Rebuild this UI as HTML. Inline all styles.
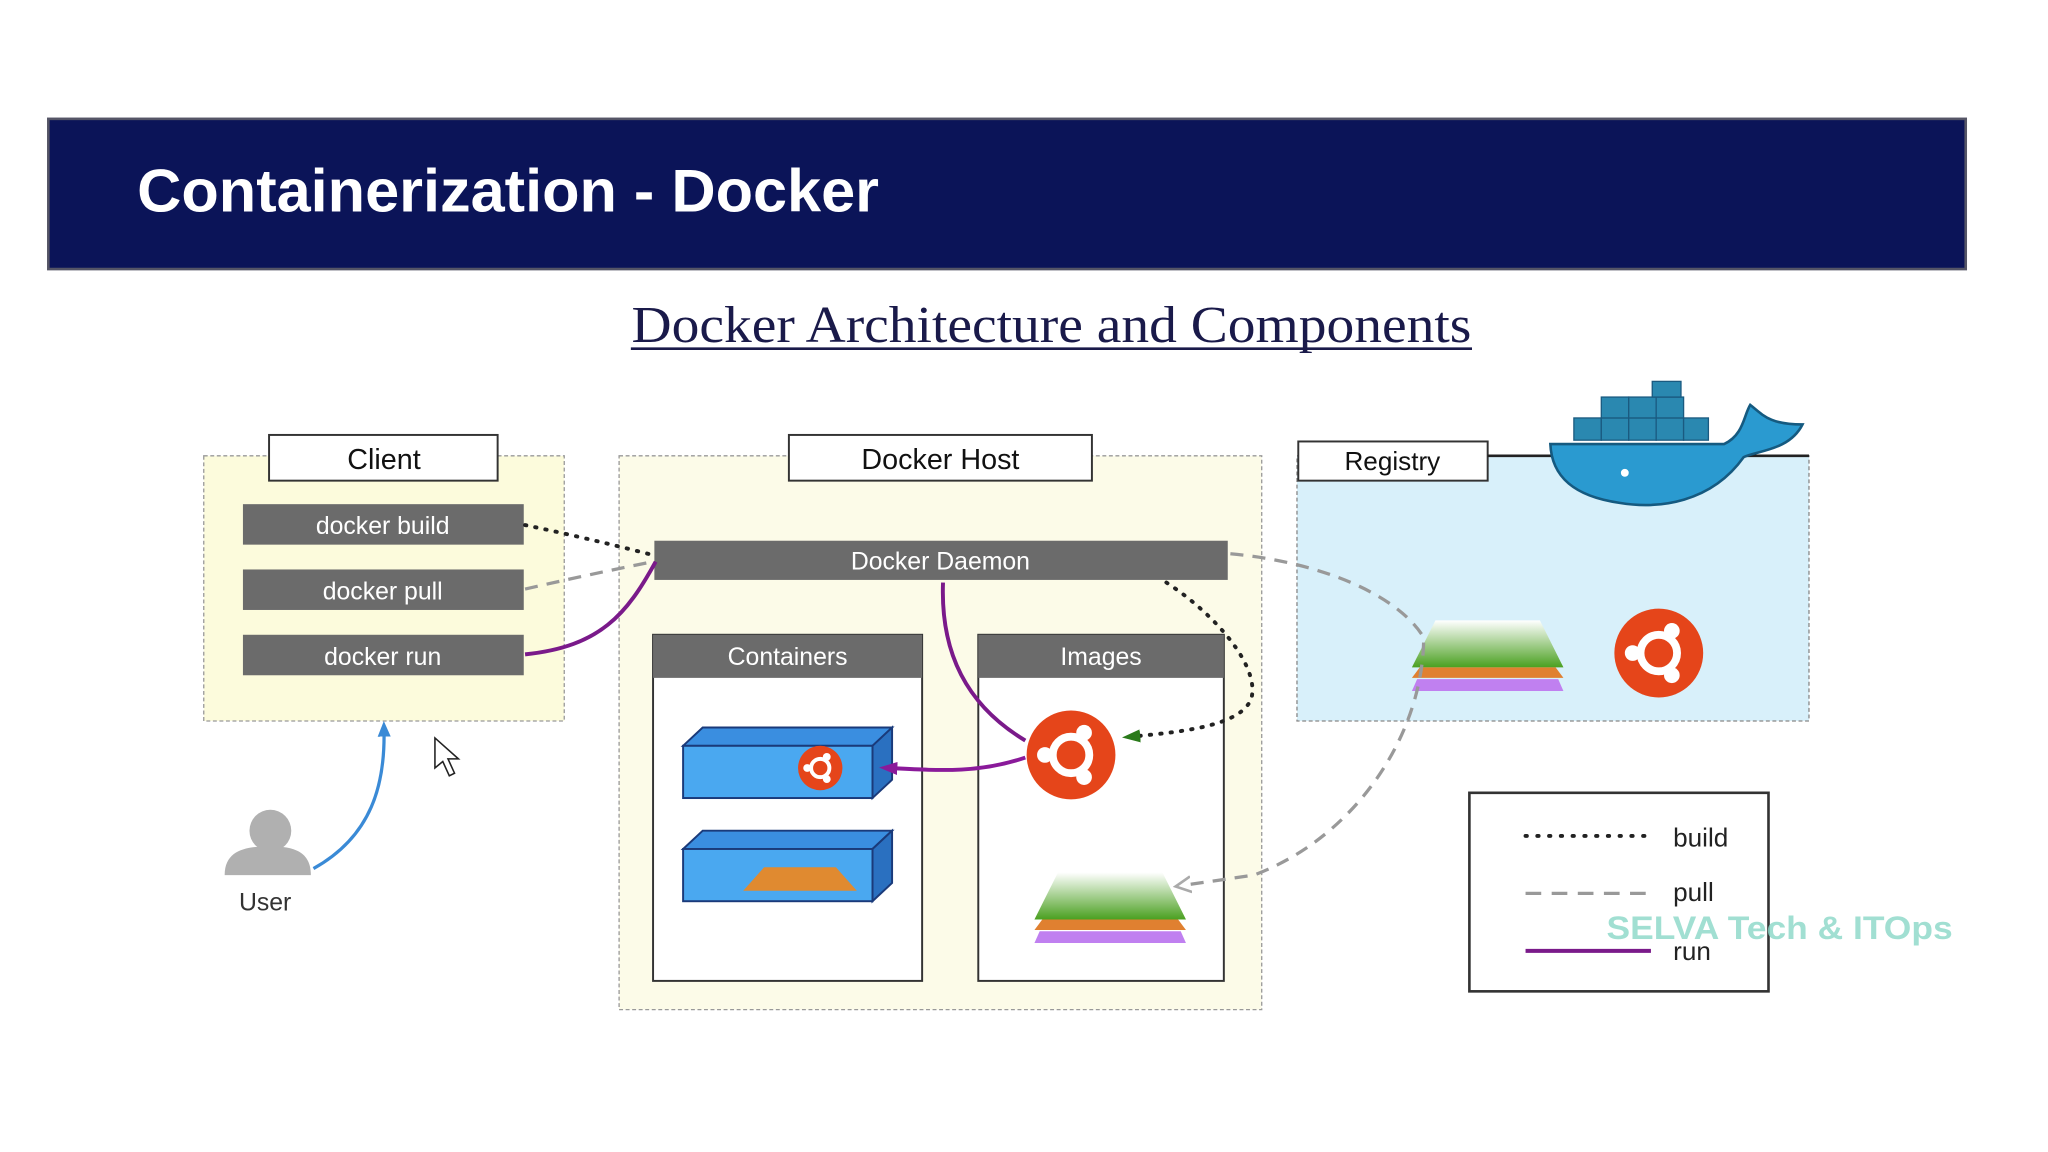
<!DOCTYPE html>
<html><head><meta charset="utf-8"><style>
html,body{margin:0;padding:0;background:#fff;width:2048px;height:1152px;overflow:hidden}
svg{display:block}
text{font-family:"Liberation Sans",sans-serif}
</style></head><body>
<svg width="2048" height="1152" viewBox="0 0 1568 882" preserveAspectRatio="none" xmlns="http://www.w3.org/2000/svg">
<defs>
<linearGradient id="g1" x1="0" y1="0" x2="0" y2="1"><stop offset="0" stop-color="#fff"/><stop offset="1" stop-color="#4aa020"/></linearGradient>
<marker id="ap" markerUnits="userSpaceOnUse" markerWidth="14" markerHeight="14" refX="7" refY="7" orient="auto"><path d="M0,2 L14,7 L0,12 z" fill="#8a1a9a"/></marker>
<marker id="ab" markerUnits="userSpaceOnUse" markerWidth="12" markerHeight="12" refX="6" refY="6" orient="auto"><path d="M0,1 L12,6 L0,11 z" fill="#3a8ad6"/></marker>
<marker id="ag" markerUnits="userSpaceOnUse" markerWidth="14" markerHeight="14" refX="7" refY="7" orient="auto"><path d="M0,2 L14,7 L0,12 z" fill="#2a7a1a"/></marker>
<marker id="ay" markerUnits="userSpaceOnUse" markerWidth="14" markerHeight="14" refX="7" refY="7" orient="auto"><path d="M0,1 L12,7 L0,13" fill="none" stroke="#aaa" stroke-width="2"/></marker>
<g id="ubu"><circle r="34" fill="#e5451a"/><circle r="14" fill="none" stroke="#fff" stroke-width="6"/><circle cx="-20" cy="0" r="6" fill="#fff"/><circle cx="10" cy="-17" r="6" fill="#fff"/><circle cx="10" cy="17" r="6" fill="#fff"/></g>
<g id="stack"><path d="M18,0 H98 L116,36 H0 z" fill="url(#g1)"/><path d="M6,36 H110 L116,44 H0 z" fill="#e08030"/><path d="M4,45 H112 L116,54 H0 z" fill="#c080f0"/></g>
</defs>
<rect x="37" y="91" width="1468" height="115" fill="#0b1458" stroke="#556" stroke-width="2"/>
<text x="105" y="162" fill="#fff" font-size="46" font-weight="bold" textLength="568" lengthAdjust="spacingAndGlyphs">Containerization - Docker</text>
<text x="805" y="262" text-anchor="middle" font-size="40" fill="#1a1a4a" textLength="643" lengthAdjust="spacingAndGlyphs" style="font-family:'Liberation Serif',serif">Docker Architecture and Components</text>
<line x1="483" y1="267" x2="1127" y2="267" stroke="#1a1a4a" stroke-width="2"/>
<!-- client -->
<rect x="156" y="349" width="276" height="203" fill="#fcfbdc" stroke="#999" stroke-dasharray="3,2"/>
<rect x="206" y="333" width="175" height="35" fill="#fff" stroke="#333" stroke-width="1.5"/>
<text x="294" y="359" text-anchor="middle" font-size="22" fill="#111">Client</text>
<g font-size="19" fill="#fff" text-anchor="middle">
<rect x="186" y="386" width="215" height="31" fill="#6b6b6b"/><text x="293" y="409">docker build</text>
<rect x="186" y="436" width="215" height="31" fill="#6b6b6b"/><text x="293" y="459">docker pull</text>
<rect x="186" y="486" width="215" height="31" fill="#6b6b6b"/><text x="293" y="509">docker run</text>
</g>
<!-- host -->
<rect x="474" y="349" width="492" height="424" fill="#fcfbe8" stroke="#999" stroke-dasharray="3,2"/>
<rect x="604" y="333" width="232" height="35" fill="#fff" stroke="#333" stroke-width="1.5"/>
<text x="720" y="359" text-anchor="middle" font-size="22" fill="#111">Docker Host</text>
<rect x="501" y="414" width="439" height="30" fill="#6b6b6b"/>
<text x="720" y="436" text-anchor="middle" font-size="19" fill="#fff">Docker Daemon</text>
<rect x="500" y="486" width="206" height="265" fill="#fff" stroke="#333" stroke-width="1.5"/>
<rect x="500" y="486" width="206" height="33" fill="#6b6b6b"/>
<text x="603" y="509" text-anchor="middle" font-size="19" fill="#fff">Containers</text>
<rect x="749" y="486" width="188" height="265" fill="#fff" stroke="#333" stroke-width="1.5"/>
<rect x="749" y="486" width="188" height="33" fill="#6b6b6b"/>
<text x="843" y="509" text-anchor="middle" font-size="19" fill="#fff">Images</text>
<!-- containers -->
<g stroke="#1a3a7a" stroke-width="1.5">
<path d="M523,571 L538,557 H683 L668,571 z" fill="#3a8ee0"/><path d="M668,571 L683,557 V597 L668,611 z" fill="#2a70c0"/><rect x="523" y="571" width="145" height="40" fill="#4aa8f0"/>
<path d="M523,650 L538,636 H683 L668,650 z" fill="#3a8ee0"/><path d="M668,650 L683,636 V676 L668,690 z" fill="#2a70c0"/><rect x="523" y="650" width="145" height="40" fill="#4aa8f0"/>
</g>
<use href="#ubu" transform="translate(628,588) scale(0.5)"/>
<path d="M585,664 H640 L656,682 H569 z" fill="#e08a30"/>
<use href="#ubu" transform="translate(820,578) scale(1)"/>
<use href="#stack" transform="translate(792,668) scale(1)"/>
<!-- registry -->
<rect x="993" y="349" width="392" height="203" fill="#d8f0fa" stroke="#888" stroke-dasharray="3,2"/>
<rect x="994" y="338" width="145" height="30" fill="#fff" stroke="#333" stroke-width="1.5"/>
<text x="1066" y="360" text-anchor="middle" font-size="20" fill="#111">Registry</text>
<line x1="1139" y1="349" x2="1385" y2="349" stroke="#222" stroke-width="2"/>
<use href="#stack" transform="translate(1081,475)"/>
<use href="#ubu" transform="translate(1270,500)"/>
<!-- whale -->
<g fill="#2a88b0" stroke="#1a5a80" stroke-width="1">
<rect x="1205" y="320" width="21" height="17"/><rect x="1226" y="320" width="21" height="17"/><rect x="1247" y="320" width="21" height="17"/><rect x="1268" y="320" width="21" height="17"/><rect x="1289" y="320" width="19" height="17"/>
<rect x="1226" y="304" width="21" height="16"/><rect x="1247" y="304" width="21" height="16"/><rect x="1268" y="304" width="21" height="16"/>
<rect x="1265" y="292" width="22" height="12"/>
</g>
<path d="M1187,340 H1320 C1335,333 1335,318 1340,310 C1350,318 1355,325 1380,325 C1370,345 1345,345 1335,350 C1310,385 1270,390 1240,385 C1205,380 1188,365 1187,340 z" fill="#2a9ad0" stroke="#155a80" stroke-width="2"/>
<circle cx="1244" cy="362" r="3" fill="#fff"/>
<!-- connectors -->
<path d="M402,402 Q450,412 500,425" fill="none" stroke="#222" stroke-width="3" stroke-dasharray="1,7" stroke-linecap="round"/>
<path d="M402,451 Q450,440 500,430" fill="none" stroke="#999" stroke-width="2.5" stroke-dasharray="10,7"/>
<path d="M402,501 C460,495 480,470 502,430" fill="none" stroke="#7a1a8a" stroke-width="3"/>
<path d="M722,446 C720,500 740,540 785,567" fill="none" stroke="#7a1a8a" stroke-width="3"/>
<path d="M785,580 C750,592 720,590 680,588" fill="none" stroke="#8a1a9a" stroke-width="3" marker-end="url(#ap)"/>
<path d="M893,446 C930,470 965,510 958,535 C950,555 910,560 866,564" fill="none" stroke="#222" stroke-width="3" stroke-dasharray="1,7" stroke-linecap="round" marker-end="url(#ag)"/>
<path d="M942,424 C1010,430 1070,455 1090,488 C1090,560 1040,640 960,670 L905,678" fill="none" stroke="#999" stroke-width="2.5" stroke-dasharray="10,7" marker-end="url(#ay)"/>
<path d="M240,665 C285,640 295,600 294,558" fill="none" stroke="#3a8ad6" stroke-width="2.5" marker-end="url(#ab)"/>
<!-- user -->
<circle cx="207" cy="636" r="16" fill="#b0b0b0"/>
<path d="M172,670 C172,650 190,648 207,648 C225,648 238,652 238,670 z" fill="#b0b0b0"/>
<text x="203" y="697" text-anchor="middle" font-size="19" fill="#333">User</text>
<path d="M333,565 L333,588 L339,583 L344,594 L348,592 L343,581 L351,581 z" fill="#fff" stroke="#222" stroke-width="1.2"/>
<!-- legend -->
<rect x="1125" y="607" width="229" height="152" fill="#fff" stroke="#333" stroke-width="2"/>
<line x1="1168" y1="640" x2="1264" y2="640" stroke="#222" stroke-width="3" stroke-dasharray="1,8" stroke-linecap="round"/>
<text x="1281" y="648" font-size="20" fill="#222">build</text>
<line x1="1168" y1="684" x2="1264" y2="684" stroke="#999" stroke-width="2.5" stroke-dasharray="12,8"/>
<text x="1281" y="690" font-size="20" fill="#222">pull</text>
<line x1="1168" y1="728" x2="1264" y2="728" stroke="#7a1a8a" stroke-width="3"/>
<text x="1281" y="735" font-size="20" fill="#222">run</text>
<text x="1230" y="719" font-size="25" fill="#8ad8c8" font-weight="bold" opacity="0.8" textLength="265" lengthAdjust="spacingAndGlyphs">SELVA Tech &amp; ITOps</text>
</svg>
</body></html>
